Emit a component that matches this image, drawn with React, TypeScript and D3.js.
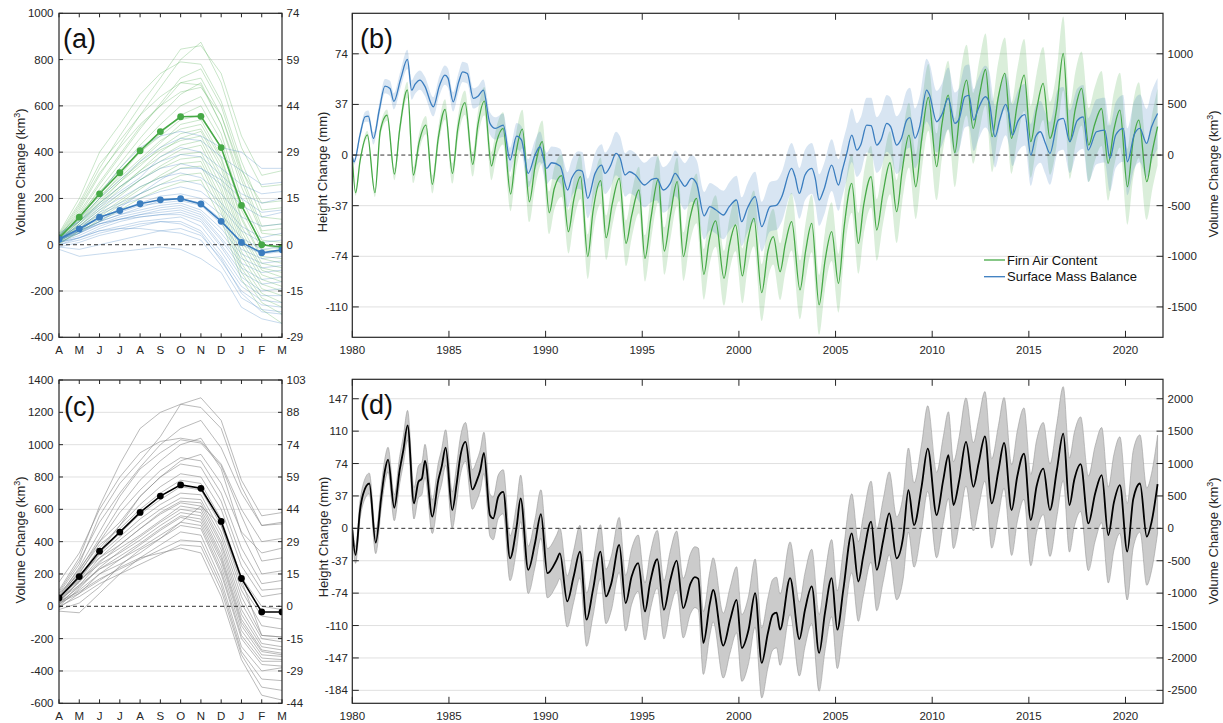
import * as d3 from "d3";

const FONT = "Arial, 'Liberation Sans', Helvetica, sans-serif";
const AXIS = "#262626";
const GRID = "#e0e0e0";
const GREEN = "#46a946";
const BLUE = "#3a7dbf";

// ---- seasonal cycle (Apr..Mar), km3 ----
const months = ["A", "M", "J", "J", "A", "S", "O", "N", "D", "J", "F", "M"];
const facMean = [30, 119, 220, 311, 406, 489, 553, 555, 420, 170, 0, -10];
const smbMean = [24, 68, 119, 148, 177, 194, 199, 176, 101, 10, -35, -22];
const totalMean = [52, 184, 341, 459, 581, 682, 751, 730, 525, 172, -35, -35];

const facYears = [
  [40, 170, 330, 470, 600, 720, 845, 860, 740, 470, 300, 320],
  [30, 150, 300, 430, 560, 680, 800, 875, 700, 420, 250, 260],
  [50, 200, 400, 520, 650, 740, 790, 780, 620, 360, 150, 160],
  [20, 130, 260, 380, 500, 610, 720, 760, 600, 330, 120, 110],
  [35, 140, 270, 390, 510, 600, 700, 720, 560, 300, 80, 90],
  [25, 120, 240, 350, 460, 560, 650, 700, 520, 250, 50, 40],
  [30, 110, 220, 330, 430, 520, 600, 640, 480, 200, 20, 10],
  [20, 100, 200, 300, 400, 480, 560, 600, 450, 170, 0, -20],
  [40, 130, 230, 320, 400, 470, 540, 560, 420, 150, -20, -30],
  [15, 90, 180, 270, 360, 440, 520, 540, 380, 120, -50, -60],
  [30, 120, 210, 290, 370, 450, 500, 520, 370, 110, -60, -80],
  [20, 100, 190, 270, 340, 420, 480, 500, 350, 80, -80, -100],
  [10, 80, 160, 240, 320, 400, 460, 490, 330, 60, -100, -120],
  [25, 110, 200, 280, 350, 410, 450, 470, 300, 40, -110, -140],
  [15, 90, 170, 250, 320, 380, 430, 450, 280, 20, -130, -160],
  [30, 100, 180, 250, 310, 360, 410, 430, 250, 0, -150, -180],
  [10, 70, 140, 210, 280, 340, 390, 400, 230, -30, -170, -200],
  [20, 80, 150, 220, 280, 330, 370, 380, 200, -50, -190, -220],
  [5, 60, 120, 180, 240, 300, 350, 360, 180, -80, -210, -250],
  [20, 70, 130, 190, 250, 290, 330, 340, 160, -100, -230, -270],
  [10, 50, 110, 170, 220, 260, 300, 310, 140, -120, -250, -300],
  [0, 60, 100, 150, 200, 240, 270, 280, 110, -150, -280, -340],
  [45, 180, 350, 450, 560, 640, 700, 690, 520, 280, 60, 70],
  [35, 160, 310, 420, 520, 600, 660, 680, 560, 320, 180, 190],
];

const smbYears = [
  [40, 120, 220, 330, 420, 470, 490, 470, 420, 400, 330, 330],
  [30, 110, 200, 280, 360, 420, 460, 450, 380, 320, 260, 270],
  [50, 100, 180, 250, 310, 360, 390, 380, 300, 220, 180, 200],
  [20, 90, 160, 220, 280, 330, 350, 330, 260, 170, 120, 140],
  [35, 80, 150, 200, 250, 290, 310, 290, 220, 120, 80, 90],
  [25, 70, 140, 180, 220, 260, 280, 260, 180, 80, 30, 50],
  [30, 80, 130, 170, 200, 230, 250, 230, 160, 60, 10, 20],
  [20, 60, 120, 150, 180, 210, 220, 200, 130, 30, -20, -10],
  [10, 50, 100, 130, 160, 190, 200, 180, 110, 0, -40, -30],
  [30, 70, 110, 140, 170, 180, 190, 170, 90, -20, -60, -50],
  [15, 60, 100, 130, 150, 170, 180, 150, 70, -40, -80, -70],
  [25, 50, 90, 120, 140, 160, 170, 140, 50, -60, -100, -90],
  [10, 40, 80, 110, 130, 150, 160, 130, 30, -80, -120, -110],
  [20, 50, 90, 110, 130, 140, 150, 120, 20, -100, -150, -140],
  [0, 30, 70, 100, 120, 130, 140, 110, 0, -120, -170, -160],
  [30, 60, 90, 110, 120, 130, 130, 100, -10, -140, -200, -190],
  [10, 30, 60, 80, 100, 110, 120, 80, -30, -160, -220, -220],
  [-10, 10, 40, 60, 80, 100, 100, 60, -50, -180, -240, -250],
  [0, 20, 50, 70, 90, 100, 90, 50, -70, -200, -260, -270],
  [-20, -50, -40, -30, -20, -10, -20, -60, -120, -270, -320, -340],
  [-10, -20, 0, 20, 40, 60, 70, 40, -60, -210, -290, -300],
  [20, 60, 100, 160, 220, 280, 330, 330, 280, 200, 140, 150],
  [40, 100, 170, 230, 290, 380, 420, 400, 330, 260, 220, 230],
  [10, 30, 60, 70, 70, 60, 50, 20, -90, -230, -280, -290],
];

const totalYears = [
  [100, 300, 620, 880, 1100, 1200, 1250, 1290, 1150, 780, 560, 580],
  [80, 260, 560, 760, 900, 1050, 1250, 1230, 1100, 740, 500, 520],
  [150, 330, 600, 800, 950, 1020, 1040, 1020, 880, 600, 400, 420],
  [60, 240, 460, 680, 850, 950, 1030, 1010, 870, 560, 280, 300],
  [50, 220, 420, 620, 780, 900, 1000, 1040, 850, 450, 200, 220],
  [40, 200, 400, 580, 720, 840, 920, 900, 700, 360, 140, 160],
  [70, 230, 400, 520, 680, 800, 880, 860, 650, 300, 100, 110],
  [30, 180, 360, 500, 630, 740, 820, 800, 600, 250, 60, 80],
  [60, 210, 380, 480, 600, 700, 780, 760, 540, 180, 0, -20],
  [20, 160, 330, 450, 570, 660, 740, 720, 500, 130, -60, -80],
  [50, 180, 320, 430, 540, 630, 700, 690, 460, 100, -120, -140],
  [30, 150, 300, 410, 510, 600, 670, 660, 430, 60, -180, -190],
  [80, 200, 300, 380, 480, 580, 650, 640, 400, 20, -200, -220],
  [10, 130, 270, 380, 480, 570, 640, 620, 380, -20, -230, -250],
  [40, 150, 280, 360, 440, 530, 620, 600, 350, -50, -250, -270],
  [0, 110, 240, 340, 430, 520, 600, 580, 320, -80, -270, -290],
  [60, 160, 260, 330, 410, 500, 580, 560, 300, -100, -280, -300],
  [20, 120, 230, 310, 390, 480, 560, 540, 280, -120, -300, -310],
  [-10, 80, 200, 290, 380, 470, 550, 520, 250, -150, -320, -330],
  [40, 130, 230, 290, 360, 440, 520, 500, 220, -180, -340, -340],
  [10, 100, 200, 260, 330, 420, 500, 480, 200, -200, -360, -370],
  [-30, -40, 80, 200, 300, 380, 460, 440, 160, -250, -400, -380],
  [30, 90, 170, 230, 290, 350, 410, 400, 130, -280, -450, -460],
  [0, 60, 140, 200, 260, 320, 380, 370, 100, -300, -500, -520],
  [20, 80, 160, 240, 300, 330, 360, 330, 60, -330, -550, -580],
  [50, 170, 340, 500, 680, 800, 900, 940, 760, 460, 330, 360],
  [90, 280, 520, 700, 860, 1000, 1100, 1150, 980, 700, 500, 510],
  [-20, 20, 120, 250, 350, 420, 520, 620, 500, 160, -180, -190],
];

// ---- time series: [year, km3, spread] ----
const facSeries = [
  [1980.0, -20, 10], [1980.17, -372, 30], [1980.4, -60, 30], [1980.78, 200, 40],
  [1981.17, -372, 45], [1981.45, 240, 50], [1981.8, 395, 55],
  [1982.18, -188, 60], [1982.45, 250, 65], [1982.85, 643, 80],
  [1983.16, -197, 80], [1983.45, 120, 85], [1983.81, 296, 90],
  [1984.14, -289, 90], [1984.45, 170, 95], [1984.8, 451, 100],
  [1985.18, -181, 100], [1985.45, 250, 110], [1985.83, 517, 120],
  [1986.23, -92, 120], [1986.5, 300, 130], [1986.83, 533, 140],
  [1987.2, -108, 140], [1987.45, 120, 150], [1987.8, 263, 160],
  [1988.19, -385, 170], [1988.45, 0, 180], [1988.8, 257, 190],
  [1989.16, -461, 200], [1989.45, -120, 200], [1989.83, 132, 210],
  [1990.19, -570, 210], [1990.45, -330, 210], [1990.83, -204, 210],
  [1991.18, -757, 215], [1991.45, -450, 215], [1991.81, -214, 220],
  [1992.18, -1003, 220], [1992.45, -560, 225], [1992.85, -253, 230],
  [1993.13, -816, 220], [1993.45, -480, 220], [1993.81, -230, 225],
  [1994.16, -872, 225], [1994.45, -600, 225], [1994.83, -345, 230],
  [1995.14, -1020, 230], [1995.45, -620, 230], [1995.83, -237, 235],
  [1996.14, -948, 235], [1996.45, -600, 235], [1996.81, -263, 240],
  [1997.13, -1003, 240], [1997.45, -640, 240], [1997.81, -428, 245],
  [1998.19, -1178, 250], [1998.45, -860, 250], [1998.8, -651, 255],
  [1999.23, -1217, 270], [1999.5, -900, 260], [1999.83, -691, 260],
  [2000.18, -1194, 270], [2000.45, -850, 270], [2000.78, -625, 275],
  [2001.18, -1359, 280], [2001.5, -950, 275], [2001.78, -806, 275],
  [2002.13, -1152, 280], [2002.4, -880, 280], [2002.73, -658, 285],
  [2003.16, -1332, 290], [2003.45, -950, 285], [2003.77, -674, 285],
  [2004.15, -1480, 295], [2004.45, -1050, 290], [2004.8, -757, 290],
  [2005.15, -1267, 290], [2005.45, -700, 285], [2005.84, -280, 290],
  [2006.18, -872, 300], [2006.45, -500, 300], [2006.84, -214, 305],
  [2007.13, -740, 305], [2007.45, -380, 305], [2007.82, -76, 310],
  [2008.16, -559, 310], [2008.45, -150, 315], [2008.8, 197, 320],
  [2009.15, -313, 320], [2009.45, 150, 325], [2009.8, 569, 330],
  [2010.23, -115, 330], [2010.5, 300, 335], [2010.83, 592, 340],
  [2011.17, 23, 340], [2011.45, 450, 345], [2011.78, 740, 350],
  [2012.12, 263, 350], [2012.45, 600, 350], [2012.76, 845, 355],
  [2013.1, 181, 350], [2013.4, 550, 350], [2013.76, 806, 355],
  [2014.1, 165, 350], [2014.4, 500, 350], [2014.76, 790, 355],
  [2015.1, 132, 355], [2015.4, 450, 355], [2015.74, 707, 360],
  [2016.09, 165, 360], [2016.43, 450, 360], [2016.78, 1003, 365],
  [2017.12, 132, 365], [2017.4, 450, 365], [2017.73, 658, 365],
  [2018.1, 99, 365], [2018.4, 300, 365], [2018.76, 460, 370],
  [2019.1, -82, 370], [2019.4, 250, 370], [2019.71, 444, 370],
  [2020.1, -313, 375], [2020.4, 150, 375], [2020.69, 345, 375],
  [2021.1, -263, 375], [2021.4, 50, 375], [2021.66, 280, 380],
];

const smbSeries = [
  [1980.0, -16, 20], [1980.09, -66, 30], [1980.4, 200, 40], [1980.66, 378, 50], [1980.83, 385, 55],
  [1981.09, 164, 60], [1981.4, 450, 65], [1981.69, 681, 70], [1981.95, 658, 75],
  [1982.15, 530, 80], [1982.5, 750, 85], [1982.85, 944, 95],
  [1983.07, 641, 95], [1983.25, 700, 95], [1983.5, 740, 95], [1983.75, 681, 95],
  [1984.19, 477, 95], [1984.5, 680, 95], [1984.79, 790, 95], [1984.95, 760, 95],
  [1985.22, 526, 95], [1985.5, 720, 95], [1985.71, 822, 100], [1985.95, 806, 100],
  [1986.26, 559, 100], [1986.5, 580, 100], [1986.78, 641, 105],
  [1987.12, 313, 110], [1987.4, 263, 110], [1987.81, 296, 115],
  [1988.16, -49, 120], [1988.5, 187, 130], [1988.75, 150, 135],
  [1989.1, -181, 140], [1989.45, 0, 145], [1989.71, 82, 150],
  [1990.05, -132, 155], [1990.31, -76, 160], [1990.75, -109, 170],
  [1991.14, -345, 175], [1991.35, -230, 180], [1991.69, -148, 185], [1991.9, -160, 190],
  [1992.18, -428, 195], [1992.56, -181, 200], [1992.9, -99, 205],
  [1993.07, -181, 205], [1993.35, -110, 210], [1993.64, 16, 215], [1993.85, -30, 215],
  [1994.11, -197, 215], [1994.35, -165, 215], [1994.65, -197, 215],
  [1995.11, -296, 220], [1995.5, -240, 220], [1995.75, -230, 220],
  [1996.09, -345, 225], [1996.45, -280, 225], [1996.7, -181, 225], [1997.0, -260, 225],
  [1997.2, -310, 230], [1997.55, -230, 230], [1997.81, -280, 230],
  [1998.2, -600, 235], [1998.5, -510, 235], [1998.8, -540, 235],
  [1999.2, -592, 240], [1999.5, -510, 240], [1999.88, -444, 240],
  [2000.14, -658, 240], [2000.45, -520, 240], [2000.84, -411, 245],
  [2001.18, -707, 245], [2001.61, -510, 245], [2001.96, -494, 245],
  [2002.2, -420, 245], [2002.73, -132, 250], [2002.9, -210, 250],
  [2003.13, -378, 250], [2003.42, -197, 250], [2003.77, -132, 250], [2003.95, -230, 250],
  [2004.15, -444, 255], [2004.4, -340, 255], [2004.8, -99, 255],
  [2005.15, -296, 255], [2005.35, -150, 260], [2005.58, 16, 260], [2005.84, 197, 265],
  [2006.1, 49, 265], [2006.3, 100, 270], [2006.61, 296, 270], [2006.84, 290, 275],
  [2007.13, 99, 275], [2007.35, 150, 280], [2007.65, 313, 280], [2007.85, 280, 285],
  [2008.16, 99, 285], [2008.4, 160, 290], [2008.68, 345, 290], [2008.85, 370, 295],
  [2009.11, 165, 295], [2009.35, 280, 300], [2009.71, 642, 310], [2009.85, 600, 310],
  [2010.23, 329, 305], [2010.5, 400, 305], [2010.83, 559, 305],
  [2011.17, 313, 305], [2011.4, 360, 305], [2011.69, 576, 305], [2011.9, 590, 305],
  [2012.15, 345, 305], [2012.35, 440, 305], [2012.75, 576, 305], [2012.95, 520, 305],
  [2013.25, 181, 305], [2013.5, 350, 305], [2013.8, 500, 305], [2013.95, 420, 305],
  [2014.15, 197, 305], [2014.45, 340, 305], [2014.8, 400, 305],
  [2015.1, 0, 305], [2015.35, 181, 305], [2015.6, 230, 305], [2015.85, 120, 305],
  [2016.09, 16, 310], [2016.52, 345, 310], [2016.78, 362, 310],
  [2017.12, 132, 310], [2017.5, 340, 315], [2017.81, 378, 315],
  [2018.07, 49, 315], [2018.5, 230, 320], [2018.93, 247, 320],
  [2019.19, -33, 325], [2019.5, 200, 325], [2019.88, 263, 330],
  [2020.1, -66, 330], [2020.45, 200, 335], [2020.74, 263, 335],
  [2021.09, 115, 340], [2021.35, 280, 345], [2021.66, 411, 350],
];

const totalSeries = [
  [1980.0, -26, 100], [1980.17, -410, 130], [1980.4, 282, 140], [1980.57, 538, 150], [1980.88, 692, 160],
  [1981.21, -220, 170], [1981.5, 487, 180], [1981.69, 897, 185], [1981.85, 1061, 190],
  [1982.17, 318, 200], [1982.45, 897, 210], [1982.64, 1205, 215], [1982.86, 1590, 230],
  [1983.19, 385, 240], [1983.42, 718, 245], [1983.6, 769, 250], [1983.76, 1041, 255],
  [1984.14, 180, 260], [1984.45, 744, 265], [1984.62, 949, 270], [1984.83, 1246, 275],
  [1985.17, 282, 280], [1985.4, 692, 285], [1985.57, 1077, 290], [1985.86, 1333, 300],
  [1986.21, 600, 305], [1986.45, 744, 310], [1986.62, 897, 315], [1986.81, 1164, 320],
  [1987.12, 205, 325], [1987.29, 154, 330], [1987.55, 487, 335], [1987.81, 564, 340],
  [1988.16, -462, 345], [1988.5, 26, 350], [1988.71, 462, 360],
  [1989.1, -641, 365], [1989.45, -231, 370], [1989.76, 220, 375],
  [1990.09, -692, 380], [1990.57, -487, 385], [1990.74, -385, 390],
  [1991.12, -1128, 395], [1991.45, -744, 400], [1991.78, -359, 405],
  [1992.12, -1410, 410], [1992.45, -949, 410], [1992.84, -359, 415],
  [1993.12, -1051, 420], [1993.4, -846, 420], [1993.81, -256, 425],
  [1994.14, -1154, 430], [1994.45, -744, 430], [1994.79, -538, 435],
  [1995.14, -1282, 440], [1995.4, -846, 440], [1995.78, -477, 445],
  [1996.12, -1256, 450], [1996.45, -800, 450], [1996.78, -497, 455],
  [1997.12, -1231, 460], [1997.5, -850, 465], [1997.72, -754, 470], [1997.9, -780, 475],
  [1998.16, -1769, 485], [1998.5, -1154, 490], [1998.67, -949, 495],
  [1999.19, -1810, 500], [1999.55, -1410, 505], [1999.88, -1103, 510],
  [2000.15, -1846, 515], [2000.5, -1564, 520], [2000.84, -1000, 525],
  [2001.18, -2077, 540], [2001.5, -1615, 540], [2001.75, -1333, 545], [2001.95, -1300, 545],
  [2002.13, -1564, 550], [2002.65, -769, 560],
  [2003.13, -1708, 570], [2003.42, -1256, 570], [2003.77, -897, 575],
  [2004.15, -1923, 590], [2004.45, -1308, 590], [2004.8, -769, 595],
  [2005.09, -1564, 600], [2005.4, -949, 605], [2005.84, -77, 610],
  [2006.18, -820, 615], [2006.43, -436, 620], [2006.84, 103, 625],
  [2007.13, -641, 630], [2007.47, -179, 635], [2007.78, 231, 640],
  [2008.16, -462, 640], [2008.5, -128, 645], [2008.77, 590, 650],
  [2009.06, 51, 650], [2009.45, 641, 655], [2009.77, 1231, 660],
  [2010.23, 205, 660], [2010.57, 744, 665], [2010.84, 1128, 670],
  [2011.1, 359, 670], [2011.4, 744, 675], [2011.75, 1333, 680],
  [2012.13, 641, 680], [2012.4, 1000, 680], [2012.73, 1420, 690],
  [2013.08, 385, 690], [2013.43, 897, 695], [2013.72, 1318, 700],
  [2014.11, 282, 700], [2014.4, 800, 700], [2014.75, 1154, 705],
  [2015.1, 128, 705], [2015.4, 650, 710], [2015.75, 923, 710],
  [2016.09, 282, 715], [2016.45, 900, 720], [2016.78, 1461, 725],
  [2017.1, 359, 725], [2017.35, 750, 725], [2017.68, 990, 730],
  [2018.08, 77, 730], [2018.43, 538, 735], [2018.77, 821, 735],
  [2019.11, -103, 740], [2019.4, 400, 740], [2019.71, 667, 745],
  [2020.09, -359, 745], [2020.4, 450, 750], [2020.75, 692, 750],
  [2021.1, -128, 750], [2021.35, 100, 750], [2021.66, 682, 755],
];

// ---- ticks ----
const yearTicks = [1980, 1985, 1990, 1995, 2000, 2005, 2010, 2015, 2020];
const volTicksA = [-400, -200, 0, 200, 400, 600, 800, 1000];
const mmLabelsA = ["-29", "-15", "0", "15", "29", "44", "59", "74"];
const volTicksB = [-1500, -1000, -500, 0, 500, 1000];
const mmLabelsB = ["-110", "-74", "-37", "0", "37", "74"];
const volTicksC = [-600, -400, -200, 0, 200, 400, 600, 800, 1000, 1200, 1400];
const mmLabelsC = ["-44", "-29", "-15", "0", "15", "29", "44", "59", "74", "88", "103"];
const volTicksD = [-2500, -2000, -1500, -1000, -500, 0, 500, 1000, 1500, 2000];
const mmLabelsD = ["-184", "-147", "-110", "-74", "-37", "0", "37", "74", "110", "147"];

const boxA = { x0: 59, x1: 282, y0: 13.3, y1: 337.3 };
const boxB = { x0: 352.3, x1: 1163, y0: 13.3, y1: 337.3 };
const boxC = { x0: 59, x1: 282, y0: 380, y1: 703.3 };
const boxD = { x0: 352.3, x1: 1163, y0: 379.3, y1: 703.3 };

const xMonthA = d3.scaleLinear().domain([0, 11]).range([boxA.x0, boxA.x1]);
const xMonthC = d3.scaleLinear().domain([0, 11]).range([boxC.x0, boxC.x1]);
const xYearB = d3.scaleLinear().domain([1980, 2021.94]).range([boxB.x0, boxB.x1]);
const xYearD = d3.scaleLinear().domain([1980, 2021.94]).range([boxD.x0, boxD.x1]);
const yA = d3.scaleLinear().domain([-400, 1000]).range([boxA.y1, boxA.y0]);
const yB = d3.scaleLinear().domain([-1800, 1400]).range([boxB.y1, boxB.y0]);
const yC = d3.scaleLinear().domain([-600, 1400]).range([boxC.y1, boxC.y0]);
const yD = d3.scaleLinear().domain([-2700, 2300]).range([boxD.y1, boxD.y0]);

function Grid({ box, y, ticks }) {
  return (
    <g>
      {ticks.filter((t) => t !== 0).map((t) => (
        <line key={t} x1={box.x0} x2={box.x1} y1={y(t)} y2={y(t)} stroke={GRID} strokeWidth={1} />
      ))}
    </g>
  );
}

function ZeroLine({ box, y }) {
  return (
    <line x1={box.x0} x2={box.x1} y1={y(0)} y2={y(0)} stroke="#333" strokeWidth={1} strokeDasharray="4,3" />
  );
}

function Frame({ box, x, y, xTicks, xLabels, yTicks, leftLabels, rightLabels, tick, gapL }) {
  return (
    <g fontFamily={FONT} fontSize={11.5} fill={AXIS}>
      {xTicks.map((t, i) => (
        <g key={"x" + i}>
          <line x1={x(t)} x2={x(t)} y1={box.y0} y2={box.y0 + tick} stroke={AXIS} strokeWidth={1} />
          <line x1={x(t)} x2={x(t)} y1={box.y1} y2={box.y1 - tick} stroke={AXIS} strokeWidth={1} />
          <text x={x(t)} y={box.y1 + 17} textAnchor="middle">{xLabels[i]}</text>
        </g>
      ))}
      {yTicks.map((t, i) => (
        <g key={"y" + i}>
          <line x1={box.x0} x2={box.x0 + tick} y1={y(t)} y2={y(t)} stroke={AXIS} strokeWidth={1} />
          <line x1={box.x1} x2={box.x1 - tick} y1={y(t)} y2={y(t)} stroke={AXIS} strokeWidth={1} />
          <text x={box.x0 - gapL} y={y(t)} dy="0.35em" textAnchor="end">{leftLabels[i]}</text>
          <text x={box.x1 + 4.5} y={y(t)} dy="0.35em" textAnchor="start">{rightLabels[i]}</text>
        </g>
      ))}
      <rect x={box.x0} y={box.y0} width={box.x1 - box.x0} height={box.y1 - box.y0} fill="none" stroke={AXIS} strokeWidth={1.2} />
    </g>
  );
}

function VolTitle({ x, y }) {
  return (
    <text transform={`translate(${x},${y}) rotate(-90)`} textAnchor="middle" fontFamily={FONT} fontSize={13} fill={AXIS}>
      Volume Change (km<tspan dy={-5} fontSize={9}>3</tspan><tspan dy={5}>)</tspan>
    </text>
  );
}

function MmTitle({ x, y }) {
  return (
    <text transform={`translate(${x},${y}) rotate(-90)`} textAnchor="middle" fontFamily={FONT} fontSize={13} fill={AXIS}>
      Height Change (mm)
    </text>
  );
}

function PanelLabel({ x, y, text }) {
  return (
    <text x={x} y={y} fontFamily={FONT} fontSize={27} fill="#111">{text}</text>
  );
}

function Seasonal({ box, x, y, thin, thinColor, thinOpacity, means }) {
  const line = d3.line<number>().x((_, i) => x(i)).y((d) => y(d));
  return (
    <g>
      {thin.map((arr, k) => (
        <g key={k}>
          {arr.map((a, j) => (
            <path key={j} d={line(a) || ""} fill="none" stroke={thinColor[k]} strokeWidth={0.8} strokeOpacity={thinOpacity[k]} />
          ))}
        </g>
      ))}
      <line x1={box.x0} x2={box.x1} y1={y(0)} y2={y(0)} stroke="#333" strokeWidth={1} strokeDasharray="4,3" />
      {means.map((m, k) => (
        <g key={"m" + k}>
          <path d={line(m.values) || ""} fill="none" stroke={m.color} strokeWidth={1.6} />
          {m.values.map((v, i) => (
            <circle key={i} cx={x(i)} cy={y(v)} r={3.4} fill={m.color} />
          ))}
        </g>
      ))}
    </g>
  );
}

function Series({ x, y, data, color, bandFill, bandOpacity, bandStroke, width }) {
  const area = d3.area<number[]>().curve(d3.curveMonotoneX)
    .x((d) => x(d[0])).y0((d) => y(d[1] - d[2])).y1((d) => y(d[1] + d[2]));
  const line = d3.line<number[]>().curve(d3.curveMonotoneX).x((d) => x(d[0])).y((d) => y(d[1]));
  return {
    band: <path d={area(data) || ""} fill={bandFill} fillOpacity={bandOpacity} stroke={bandStroke || "none"} strokeWidth={0.6} />,
    line: <path d={line(data) || ""} fill="none" stroke={color} strokeWidth={width} strokeLinejoin="round" />,
  };
}

export default function App() {
  const monthIdx = months.map((_, i) => i);
  const fac = Series({ x: xYearB, y: yB, data: facSeries, color: GREEN, bandFill: GREEN, bandOpacity: 0.2, width: 1.3 });
  const smb = Series({ x: xYearB, y: yB, data: smbSeries, color: BLUE, bandFill: BLUE, bandOpacity: 0.2, width: 1.3 });
  const tot = Series({ x: xYearD, y: yD, data: totalSeries, color: "#000", bandFill: "#cbcbcb", bandOpacity: 1, bandStroke: "#9a9a9a", width: 1.8 });

  return (
    <svg width={1223} height={723} style={{ position: "absolute", left: 0, top: 0, background: "#fff" }}>
      <defs>
        <clipPath id="clipB"><rect x={boxB.x0} y={boxB.y0} width={boxB.x1 - boxB.x0} height={boxB.y1 - boxB.y0} /></clipPath>
        <clipPath id="clipD"><rect x={boxD.x0} y={boxD.y0} width={boxD.x1 - boxD.x0} height={boxD.y1 - boxD.y0} /></clipPath>
        <clipPath id="clipA"><rect x={boxA.x0} y={boxA.y0} width={boxA.x1 - boxA.x0} height={boxA.y1 - boxA.y0} /></clipPath>
        <clipPath id="clipC"><rect x={boxC.x0} y={boxC.y0} width={boxC.x1 - boxC.x0} height={boxC.y1 - boxC.y0} /></clipPath>
      </defs>
      <rect width={1223} height={723} fill="#fff" />

      {/* (a) */}
      <Grid box={boxA} y={yA} ticks={volTicksA} />
      <g clipPath="url(#clipA)">
        <Seasonal box={boxA} x={xMonthA} y={yA} thin={[facYears, smbYears]} thinColor={[GREEN, BLUE]} thinOpacity={[0.36, 0.36]}
          means={[{ values: facMean, color: GREEN }, { values: smbMean, color: BLUE }]} />
      </g>
      <Frame box={boxA} x={xMonthA} y={yA} xTicks={monthIdx} xLabels={months} yTicks={volTicksA}
        leftLabels={volTicksA.map(String)} rightLabels={mmLabelsA} tick={4} gapL={5.5} />

      {/* (b) */}
      <Grid box={boxB} y={yB} ticks={volTicksB} />
      <g clipPath="url(#clipB)">
        {fac.band}
        {smb.band}
        <ZeroLine box={boxB} y={yB} />
        {fac.line}
        {smb.line}
      </g>
      <Frame box={boxB} x={xYearB} y={yB} xTicks={yearTicks} xLabels={yearTicks.map(String)} yTicks={volTicksB}
        leftLabels={mmLabelsB} rightLabels={volTicksB.map(String)} tick={6.5} gapL={4.5} />
      <g fontFamily={FONT} fontSize={13} fill="#111">
        <line x1={984} x2={1005} y1={260} y2={260} stroke={GREEN} strokeWidth={1.3} />
        <text x={1007} y={264.5}>Firn Air Content</text>
        <line x1={984} x2={1005} y1={276.7} y2={276.7} stroke={BLUE} strokeWidth={1.3} />
        <text x={1007} y={281.2}>Surface Mass Balance</text>
      </g>

      {/* (c) */}
      <Grid box={boxC} y={yC} ticks={volTicksC} />
      <g clipPath="url(#clipC)">
        <Seasonal box={boxC} x={xMonthC} y={yC} thin={[totalYears]} thinColor={["#8c8c8c"]} thinOpacity={[0.75]}
          means={[{ values: totalMean, color: "#000" }]} />
      </g>
      <Frame box={boxC} x={xMonthC} y={yC} xTicks={monthIdx} xLabels={months} yTicks={volTicksC}
        leftLabels={volTicksC.map(String)} rightLabels={mmLabelsC} tick={4} gapL={5.5} />

      {/* (d) */}
      <Grid box={boxD} y={yD} ticks={volTicksD} />
      <g clipPath="url(#clipD)">
        {tot.band}
        <ZeroLine box={boxD} y={yD} />
        {tot.line}
      </g>
      <Frame box={boxD} x={xYearD} y={yD} xTicks={yearTicks} xLabels={yearTicks.map(String)} yTicks={volTicksD}
        leftLabels={mmLabelsD} rightLabels={volTicksD.map(String)} tick={6.5} gapL={4.5} />

      {/* titles */}
      <VolTitle x={25} y={172} />
      <VolTitle x={25} y={540} />
      <MmTitle x={327} y={172} />
      <MmTitle x={328} y={537} />
      <VolTitle x={1218} y={174} />
      <VolTitle x={1218} y={541} />

      <PanelLabel x={63} y={47.5} text="(a)" />
      <PanelLabel x={360} y={47.5} text="(b)" />
      <PanelLabel x={64} y={416} text="(c)" />
      <PanelLabel x={360} y={414} text="(d)" />
    </svg>
  );
}
